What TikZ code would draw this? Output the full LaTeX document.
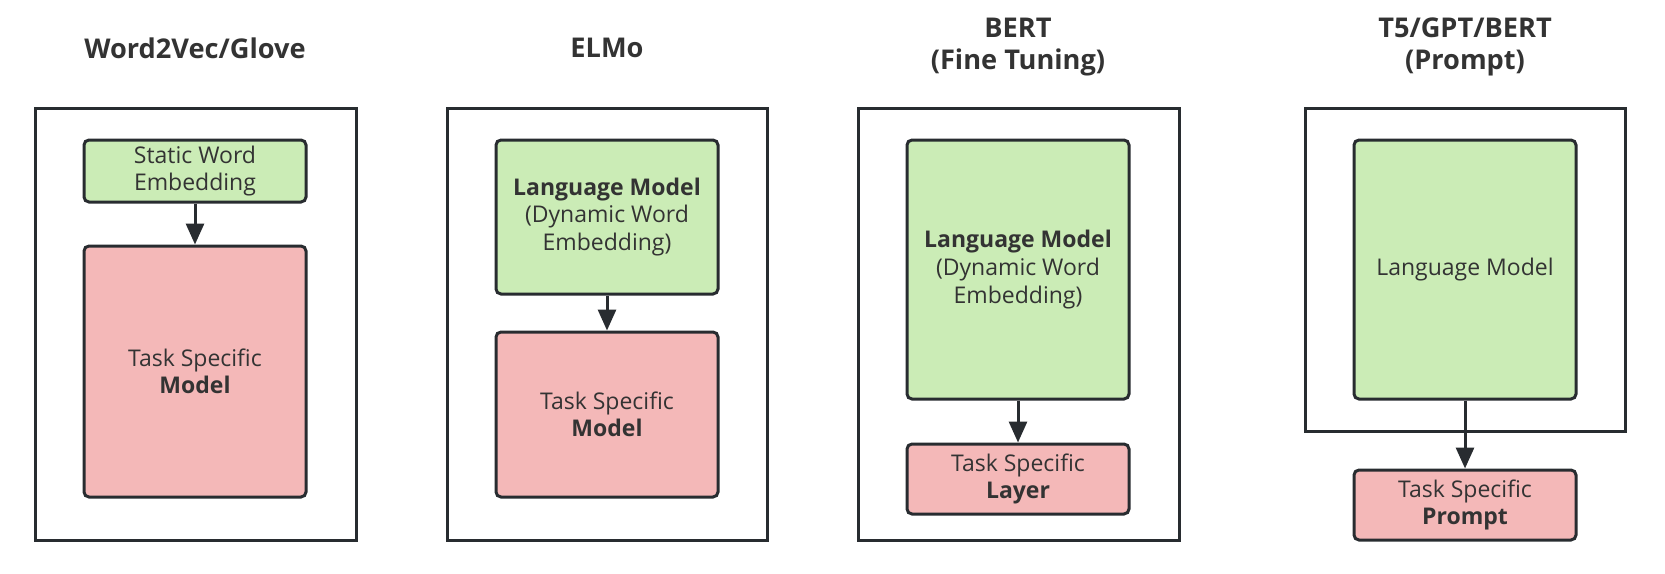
\documentclass[tikz,border=0pt]{standalone}
\usepackage{fontspec}
\setmainfont{Open Sans}
\usetikzlibrary{arrows.meta}
\definecolor{ink}{RGB}{51,51,51}
\definecolor{framec}{RGB}{40,44,48}
\definecolor{lmgreen}{RGB}{203,236,182}
\definecolor{tspink}{RGB}{244,184,184}
\tikzset{
  frame/.style={draw=framec, line width=1.5pt, fill=white, inner sep=0pt},
  greenbox/.style={draw=framec, line width=1.5pt, fill=lmgreen, rounded corners=2.5pt, align=center, text=ink, font=\fontsize{11.5}{13.8}\selectfont, inner sep=0pt},
  pinkbox/.style={draw=framec, line width=1.5pt, fill=tspink, rounded corners=2.5pt, align=center, text=ink, font=\fontsize{11.5}{13.8}\selectfont, inner sep=0pt},
  title/.style={align=center, text=ink, font=\fontsize{13.6}{16}\selectfont\bfseries},
  flow/.style={draw=framec, line width=1.5pt, -{Triangle[width=9pt,length=10.5pt]}}
}
\begin{document}
\begin{tikzpicture}[x=0.5pt,y=-0.5pt]
\useasboundingbox (0,0) rectangle (1665,573);
% panel 1
\node[title] (t1) at (195,48) {Word2Vec/Glove};
\node[frame, minimum width=160.5pt, minimum height=216pt] (f1) at (195.5,324) {};
\node[greenbox, minimum width=111pt, minimum height=31pt] (g1) at (195,171) {Static Word\\Embedding};
\node[pinkbox, minimum width=111pt, minimum height=125.5pt] (r1) at (195,371.5) {Task Specific\\\textbf{Model}};
\draw[flow] (g1) -- (r1);
% panel 2
\node[title] (t2) at (607,48) {ELMo};
\node[frame, minimum width=160pt, minimum height=216pt] (f2) at (607,324) {};
\node[greenbox, minimum width=111pt, minimum height=77pt] (g2) at (607,217) {\textbf{Language Model}\\(Dynamic Word\\Embedding)};
\node[pinkbox, minimum width=111pt, minimum height=82.5pt] (r2) at (607,414.5) {Task Specific\\\textbf{Model}};
\draw[flow] (g2) -- (r2);
% panel 3
\node[title] (t3) at (1018,47) {BERT\\(Fine Tuning)};
\node[frame, minimum width=160.5pt, minimum height=216pt] (f3) at (1018.5,324) {};
\node[greenbox, minimum width=111pt, minimum height=129.5pt] (g3) at (1018,269.5) {\textbf{Language Model}\\(Dynamic Word\\Embedding)};
\node[pinkbox, minimum width=111pt, minimum height=35pt] (r3) at (1018,479) {Task Specific\\\textbf{Layer}};
\draw[flow] (g3) -- (r3);
% panel 4
\node[title] (t4) at (1465,47) {T5/GPT/BERT\\(Prompt)};
\node[frame, minimum width=160pt, minimum height=161.5pt] (f4) at (1465,269.5) {};
\node[greenbox, minimum width=111pt, minimum height=129.5pt] (g4) at (1465,269.5) {Language Model};
\node[pinkbox, minimum width=111pt, minimum height=35pt] (r4) at (1465,505) {Task Specific\\\textbf{Prompt}};
\draw[flow] (g4) -- (r4);
\end{tikzpicture}
\end{document}
